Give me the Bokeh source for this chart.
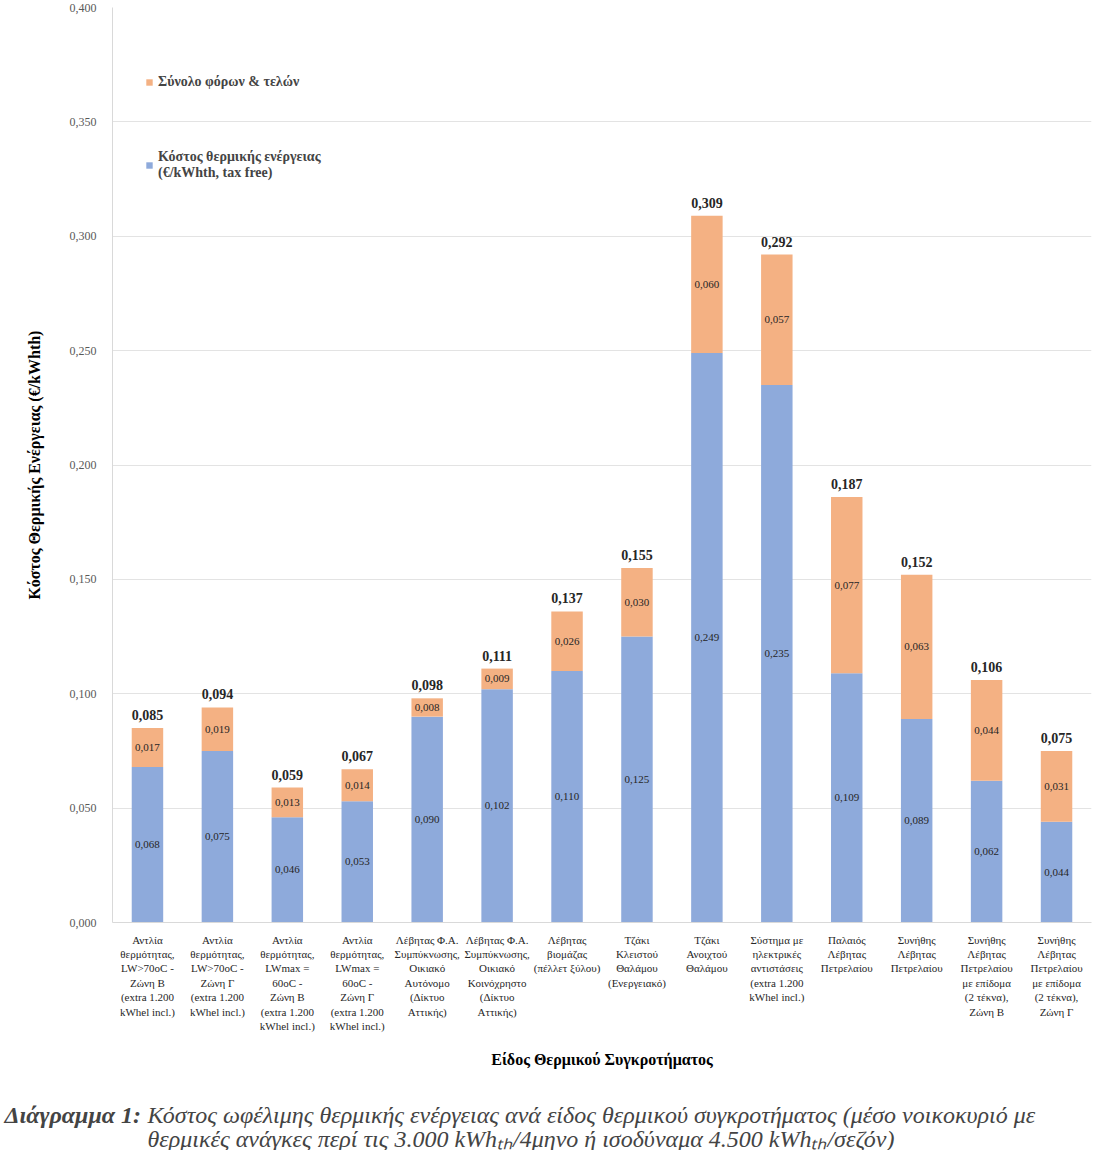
from bokeh.plotting import figure
from bokeh.models import ColumnDataSource, FactorRange, Label, CustomJSTickFormatter, FixedTicker, LabelSet, Legend, LegendItem
from bokeh.core.properties import value
from bokeh.embed import file_html
from bokeh.resources import INLINE

categories = [
    "Αντλία\nθερμότητας,\nLW>70oC -\nΖώνη Β\n(extra 1.200\nkWhel incl.)",
    "Αντλία\nθερμότητας,\nLW>70oC -\nΖώνη Γ\n(extra 1.200\nkWhel incl.)",
    "Αντλία\nθερμότητας,\nLWmax =\n60oC -\nΖώνη Β\n(extra 1.200\nkWhel incl.)",
    "Αντλία\nθερμότητας,\nLWmax =\n60oC -\nΖώνη Γ\n(extra 1.200\nkWhel incl.)",
    "Λέβητας Φ.Α.\nΣυμπύκνωσης,\nΟικιακό\nΑυτόνομο\n(Δίκτυο\nΑττικής)",
    "Λέβητας Φ.Α.\nΣυμπύκνωσης,\nΟικιακό\nΚοινόχρηστο\n(Δίκτυο\nΑττικής)",
    "Λέβητας\nβιομάζας\n(πέλλετ ξύλου)",
    "Τζάκι\nΚλειστού\nΘαλάμου\n(Ενεργειακό)",
    "Τζάκι\nΑνοιχτού\nΘαλάμου",
    "Σύστημα με\nηλεκτρικές\nαντιστάσεις\n(extra 1.200\nkWhel incl.)",
    "Παλαιός\nΛέβητας\nΠετρελαίου",
    "Συνήθης\nΛέβητας\nΠετρελαίου",
    "Συνήθης\nΛέβητας\nΠετρελαίου\nμε επίδομα\n(2 τέκνα),\nΖώνη Β",
    "Συνήθης\nΛέβητας\nΠετρελαίου\nμε επίδομα\n(2 τέκνα),\nΖώνη Γ",
]
energy_cost = [0.068, 0.075, 0.046, 0.053, 0.090, 0.102, 0.110, 0.125, 0.249, 0.235, 0.109, 0.089, 0.062, 0.044]
taxes = [0.017, 0.019, 0.013, 0.014, 0.008, 0.009, 0.026, 0.030, 0.060, 0.057, 0.077, 0.063, 0.044, 0.031]
totals = [0.085, 0.094, 0.059, 0.067, 0.098, 0.111, 0.137, 0.155, 0.309, 0.292, 0.187, 0.152, 0.106, 0.075]
y_ticks = [0.0, 0.05, 0.10, 0.15, 0.20, 0.25, 0.30, 0.35, 0.40]

BLUE = "#8EAADB"
ORANGE = "#F4B183"
FONT = "Liberation Serif"
W = 1093

def fmt(v):
    return f"{v:.3f}".replace(".", ",")

src = ColumnDataSource(dict(
    cat=categories,
    energy=energy_cost,
    taxes=taxes,
    total=totals,
    mid_energy=[e / 2 for e in energy_cost],
    mid_tax=[e + t / 2 for e, t in zip(energy_cost, taxes)],
    top=[e + t for e, t in zip(energy_cost, taxes)],
    lab_energy=[fmt(v) for v in energy_cost],
    lab_tax=[fmt(v) for v in taxes],
    lab_total=[fmt(v) for v in totals],
))

p = figure(x_range=FactorRange(*categories, range_padding=0), y_range=(0, 0.4),
           width=W, height=1070, output_backend="svg", toolbar_location=None,
           min_border_left=112, min_border_right=2, min_border_top=7, min_border_bottom=148)
p.outline_line_color = None

r = p.vbar_stack(["energy", "taxes"], x="cat", width=0.45, color=[BLUE, ORANGE], source=src, line_color=None)

for col, lab in (("mid_energy", "lab_energy"), ("mid_tax", "lab_tax")):
    p.add_layout(LabelSet(x="cat", y=col, text=lab, source=src, text_align="center", text_baseline="middle",
                          text_font=value(FONT), text_font_size="11px", text_color="#262626"))
p.add_layout(LabelSet(x="cat", y="top", text="lab_total", source=src, text_align="center", text_baseline="bottom",
                      y_offset=8, text_font=value(FONT), text_font_size="14px", text_font_style="bold",
                      text_color="#262626"))

# axes
p.yaxis.ticker = FixedTicker(ticks=y_ticks)
p.yaxis.formatter = CustomJSTickFormatter(code="return tick.toFixed(3).replace('.', ',');")
p.yaxis.major_tick_line_color = None
p.yaxis.minor_tick_line_color = None
p.yaxis.axis_line_color = "#D9D9D9"
p.yaxis.major_label_text_font = FONT
p.yaxis.major_label_text_font_size = "12px"
p.yaxis.major_label_text_color = "#595959"
p.yaxis.major_label_standoff = 10
p.yaxis.axis_label = "Κόστος Θερμικής Ενέργειας (€/kWhth)"
p.yaxis.axis_label_text_font = FONT
p.yaxis.axis_label_text_font_size = "16px"
p.yaxis.axis_label_text_font_style = "bold"
p.yaxis.axis_label_text_color = "#000000"
p.yaxis.axis_label_standoff = 24

p.xaxis.major_tick_line_color = None
p.xaxis.axis_line_color = "#D9D9D9"
p.xaxis.major_label_text_font = FONT
p.xaxis.major_label_text_font_size = "11px"
p.xaxis.major_label_text_color = "#262626"
p.xaxis.major_label_standoff = 5
p.xaxis.axis_label = "Είδος Θερμικού Συγκροτήματος"
p.xaxis.axis_label_text_font = FONT
p.xaxis.axis_label_text_font_size = "16px"
p.xaxis.axis_label_text_font_style = "bold"
p.xaxis.axis_label_text_color = "#000000"
p.xaxis.axis_label_standoff = 16

p.xgrid.grid_line_color = None
p.ygrid.grid_line_color = "#E3E3E3"
p.ygrid.ticker = FixedTicker(ticks=y_ticks)

legend = Legend(items=[LegendItem(label="Σύνολο φόρων & τελών", renderers=[r[1]]),
                       LegendItem(label="Κόστος θερμικής ενέργειας\n(€/kWhth, tax free)", renderers=[r[0]])],
                location=(33, 741), spacing=59, glyph_width=8, glyph_height=8,
                label_text_font=FONT, label_text_font_size="14px", label_text_font_style="bold",
                background_fill_alpha=0, border_line_color=None, label_standoff=5)
p.add_layout(legend)

# caption figure (separate root so its frame is not aligned with the chart's)
CH = 80
cap = figure(width=W, height=CH, x_range=(0, W), y_range=(0, CH), output_backend="svg",
             toolbar_location=None, min_border=0)
cap.axis.visible = False
cap.grid.visible = False
cap.outline_line_color = None
cap.add_layout(Label(x=4, y=36, text="Διάγραμμα 1:",
                     text_font=FONT, text_font_size="24px", text_font_style="bold italic", text_baseline="middle"))
cap.add_layout(Label(x=147, y=36,
                     text="Κόστος ωφέλιμης θερμικής ενέργειας ανά είδος θερμικού συγκροτήματος (μέσο νοικοκυριό με",
                     text_font=FONT, text_font_size="24px", text_font_style="italic", text_baseline="middle"))
cap.add_layout(Label(x=147, y=12,
                     text="θερμικές ανάγκες περί τις 3.000 kWhₜₕ/4μηνο ή ισοδύναμα 4.500 kWhₜₕ/σεζόν)",
                     text_font=FONT, text_font_size="24px", text_font_style="italic", text_baseline="middle"))

open("out.html", "w").write(file_html([p, cap], INLINE))
